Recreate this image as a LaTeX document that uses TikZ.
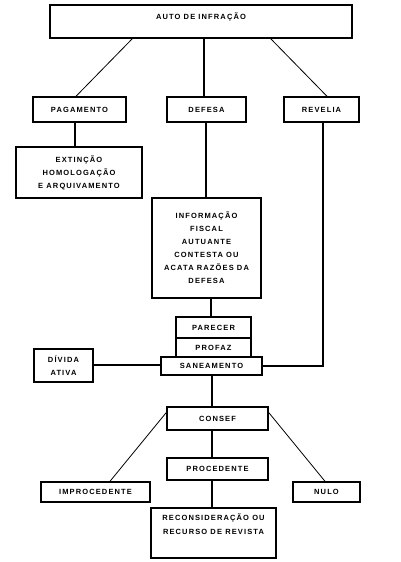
\documentclass[tikz,border=0pt]{standalone}
\usepackage{fontspec}
\newfontfamily\lab[LetterSpace=15]{Liberation Sans Bold}
\begin{document}
\begin{tikzpicture}[x=1pt,y=-1pt,
  box/.style={draw, line width=1.4pt, rectangle, inner sep=0pt, align=center,
    font=\lab\fontsize{7.5}{13}\selectfont},
  vline/.style={line width=1.7pt},
  dline/.style={line width=0.8pt}]
\useasboundingbox (0,0) rectangle (400,562);
\fill[white] (0,0) rectangle (400,562);
% boxes
\node[box, minimum width=302, minimum height=33,
  label={[anchor=north, inner sep=0pt, yshift=-8pt, font=\lab\fontsize{7.5}{13}\selectfont]north:AUTO DE INFRAÇÃO}] (auto) at (201,21.5) {};
\node[box, minimum width=93, minimum height=25] (pag) at (79.5,109.5) {PAGAMENTO};
\node[box, minimum width=79, minimum height=25] (def) at (206.5,109.5) {DEFESA};
\node[box, minimum width=75, minimum height=25] (rev) at (321.5,109.5) {REVELIA};
\node[box, minimum width=126, minimum height=51] (ext) at (79,172.5) {EXTINÇÃO\\HOMOLOGAÇÃO\\E ARQUIVAMENTO};
\node[box, minimum width=109, minimum height=100] (inf) at (206.5,248) {INFORMAÇÃO\\FISCAL\\AUTUANTE\\CONTESTA OU\\ACATA RAZÕES DA\\DEFESA};
\node[box, minimum width=75, minimum height=21] (par) at (213.5,327.5) {PARECER};
\node[box, minimum width=75, minimum height=19] (pro) at (213.5,347.5) {PROFAZ};
\node[box, minimum width=101, minimum height=18] (san) at (211.5,366) {SANEAMENTO};
\node[box, minimum width=59, minimum height=33] (div) at (63.5,365.5) {DÍVIDA\\ATIVA};
\node[box, minimum width=101, minimum height=23] (con) at (217.5,418.5) {CONSEF};
\node[box, minimum width=101, minimum height=22] (proc) at (217.5,469) {PROCEDENTE};
\node[box, minimum width=109, minimum height=20] (imp) at (95.5,492) {IMPROCEDENTE};
\node[box, minimum width=67, minimum height=20] (nulo) at (326.5,492) {NULO};
\node[box, minimum width=125, minimum height=50,
  label={[anchor=north, inner sep=0pt, yshift=-6pt, align=center, font=\lab\fontsize{7.5}{14}\selectfont]north:RECONSIDERAÇÃO OU\\RECURSO DE REVISTA}] (rec) at (213.5,533) {};
% connectors
\draw[dline] ([xshift=83pt]auto.south west) -- ([xshift=-3.5pt]pag.north);
\draw[vline] ([xshift=-2.5pt]def.north) -- ([xshift=-2.5pt]def.north |- auto.south);
\draw[dline] ([xshift=-82pt]auto.south east) -- ([xshift=5.5pt]rev.north);
\draw[vline] ([xshift=-4.5pt]pag.south) -- ([xshift=-4.5pt]pag.south |- ext.north);
\draw[vline] ([xshift=-0.5pt]def.south) -- ([xshift=-0.5pt]def.south |- inf.north);
\draw[vline] ([xshift=-2.5pt]par.north) -- ([xshift=-2.5pt]par.north |- inf.south);
\draw[vline] ([xshift=1.5pt]rev.south) |- (san.east);
\draw[vline] ([yshift=0.5pt]div.east) -- ([yshift=0.5pt]div.east -| san.west);
\draw[vline] ([xshift=0.5pt]san.south) -- ([xshift=0.5pt]san.south |- con.north);
\draw[dline] ([yshift=6pt]con.west) -- ([xshift=14.5pt]imp.north);
\draw[dline] ([yshift=6pt]con.east) -- ([xshift=-1.5pt]nulo.north);
\draw[vline] ([xshift=0.5pt]san.south |- con.south) -- ([xshift=0.5pt]san.south |- proc.north);
\draw[vline] ([xshift=0.5pt]san.south |- proc.south) -- ([xshift=0.5pt]san.south |- rec.north);
\end{tikzpicture}
\end{document}
